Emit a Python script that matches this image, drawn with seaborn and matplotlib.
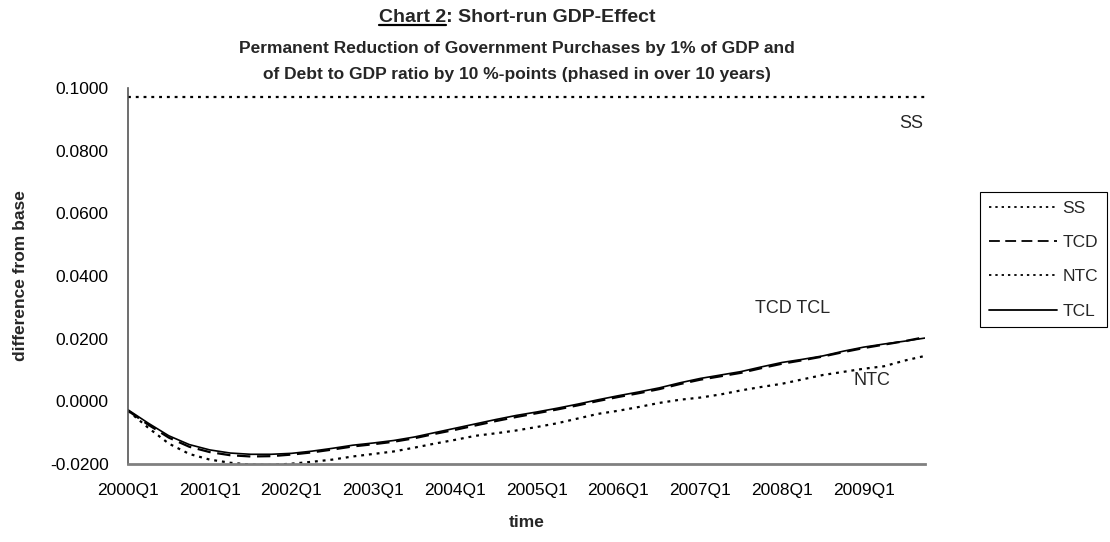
import numpy as np
import pandas as pd
import matplotlib
matplotlib.use("Agg")
import matplotlib.pyplot as plt
from matplotlib.lines import Line2D
import seaborn as sns

# ---------------- data ----------------
quarters = [f"{y}Q{q}" for y in range(2000, 2010) for q in range(1, 5)]
tick_labels = [f"{y}Q1" for y in range(2000, 2010)]

ss_value = 0.0971
ss = [ss_value] * 40

tcd = [-0.0030, -0.0075, -0.0116, -0.0145, -0.0162, -0.0172, -0.0176, -0.0175,
       -0.0170, -0.0163, -0.0154, -0.0144, -0.0137, -0.0129, -0.0118, -0.0104,
       -0.0091, -0.0077, -0.0063, -0.0050, -0.0038, -0.0026, -0.0013, 0.0001,
       0.0014, 0.0026, 0.0039, 0.0055, 0.0069, 0.0080, 0.0091, 0.0106,
       0.0120, 0.0131, 0.0143, 0.0157, 0.0170, 0.0181, 0.0192, 0.0205]

ntc = [-0.0030, -0.0085, -0.0135, -0.0168, -0.0186, -0.0196, -0.0202, -0.0203,
       -0.0199, -0.0193, -0.0186, -0.0176, -0.0168, -0.0160, -0.0148, -0.0135,
       -0.0123, -0.0110, -0.0102, -0.0093, -0.0082, -0.0070, -0.0055, -0.0040,
       -0.0030, -0.0018, -0.0005, 0.0005, 0.0012, 0.0022, 0.0035, 0.0046,
       0.0056, 0.0070, 0.0084, 0.0094, 0.0104, 0.0112, 0.0130, 0.0145]

tcl = [-0.0027, -0.0070, -0.0110, -0.0138, -0.0155, -0.0165, -0.0169, -0.0169,
       -0.0166, -0.0159, -0.0150, -0.0140, -0.0133, -0.0125, -0.0114, -0.0100,
       -0.0086, -0.0072, -0.0058, -0.0045, -0.0034, -0.0022, -0.0009, 0.0005,
       0.0018, 0.0030, 0.0043, 0.0059, 0.0073, 0.0084, 0.0095, 0.0110,
       0.0124, 0.0134, 0.0145, 0.0160, 0.0173, 0.0183, 0.0192, 0.0202]

series_names = ["SS", "TCD", "NTC", "TCL"]
y_ticks = [-0.02, 0.0, 0.02, 0.04, 0.06, 0.08, 0.10]

# ---------------- style ----------------
sns.set_theme(style="white")
plt.rcParams["font.family"] = ["Liberation Sans", "DejaVu Sans"]

fig = plt.figure(figsize=(11.10, 5.42), dpi=100)
ax = fig.add_axes([128 / 1110, 1 - 464 / 542, (925 - 128) / 1110, (464 - 88) / 542])

df = pd.DataFrame({"idx": np.arange(len(quarters)), "quarter": quarters,
                   "SS": ss, "TCD": tcd, "NTC": ntc, "TCL": tcl})

styles = {
    "SS": dict(linestyle=(0, (1.3, 2.2)), linewidth=1.6),
    "TCD": dict(linestyle=(0, (6, 3)), linewidth=1.6),
    "NTC": dict(linestyle=(0, (1.3, 2.2)), linewidth=1.6),
    "TCL": dict(linestyle="-", linewidth=1.2),
}
for name in series_names:
    sns.lineplot(data=df, x="idx", y=name, ax=ax, color="black",
                 label=name, **styles[name])

ax.set_xlim(0, 39)
ax.set_ylim(-0.02, 0.10)
ax.set_xticks(np.arange(0, 40, 4))
ax.set_xticklabels(tick_labels)
ax.set_yticks(y_ticks)
ax.set_yticklabels([f"{v:.4f}" for v in y_ticks])
ax.tick_params(axis="both", direction="inout", length=9, width=1, colors="black",
               labelsize=12.5)
ax.tick_params(axis="x", pad=9.5, color="#444444")
ax.tick_params(axis="y", pad=9.5)

for s in ["top", "right"]:
    ax.spines[s].set_visible(False)
ax.spines["left"].set_color("#555555")
ax.spines["left"].set_linewidth(1.2)
ax.spines["bottom"].set_color("#808080")
ax.spines["bottom"].set_linewidth(2.0)

ax.set_xlabel("time", fontsize=12.5, fontweight="bold", labelpad=12)
ax.set_ylabel("difference from base", fontsize=12.5, fontweight="bold", labelpad=16)

# series labels
ax.text(38.9, 0.0888, "SS", fontsize=13, ha="right", va="center")
ax.text(32.5, 0.0297, "TCD TCL", fontsize=13, ha="center", va="center")
ax.text(36.4, 0.0067, "NTC", fontsize=13, ha="center", va="center")

# legend
leg = ax.legend(loc="upper left", bbox_to_anchor=(980 / 1110, 1 - 192 / 542),
                bbox_transform=fig.transFigure, frameon=True, fancybox=False,
                edgecolor="black", framealpha=1, fontsize=12.5, handlelength=3.95,
                handletextpad=0.3, labelspacing=1.1, borderpad=0.5,
                borderaxespad=0)
leg.get_frame().set_linewidth(0.8)
for line in leg.get_lines():
    line.set_linewidth(1.3)

# titles
title_x = 517 / 1110
t = fig.text(title_x, 1 - 17 / 542, "Chart 2: Short-run GDP-Effect", fontsize=14,
             fontweight="bold", ha="center", va="center")
fig.text(title_x, 1 - 48 / 542,
         "Permanent Reduction of Government Purchases by 1% of GDP and",
         fontsize=12.5, fontweight="bold", ha="center", va="center")
fig.text(title_x, 1 - 74 / 542,
         "of Debt to GDP ratio by 10 %-points (phased in over 10 years)",
         fontsize=12.5, fontweight="bold", ha="center", va="center")

# underline "Chart 2"
fig.canvas.draw()
renderer = fig.canvas.get_renderer()
bb = t.get_window_extent(renderer)
tmp = fig.text(0, 0, "Chart 2", fontsize=14, fontweight="bold")
w = tmp.get_window_extent(renderer).width
tmp.remove()
W, H = fig.get_size_inches() * fig.dpi
y_ul = bb.y0 + 1
fig.add_artist(Line2D([bb.x0 / W, (bb.x0 + w) / W], [y_ul / H, y_ul / H],
                      transform=fig.transFigure, color="black", linewidth=1.6))

fig.savefig("out.png", dpi=100, facecolor="white")
